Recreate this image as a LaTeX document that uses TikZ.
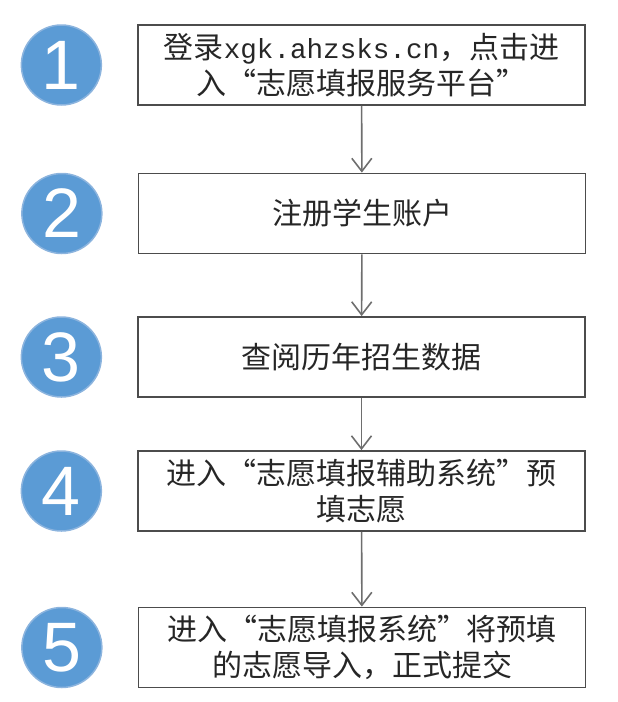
\documentclass[tikz,border=0pt]{standalone}
\usepackage{fontspec}
\newfontfamily\cjkfont{Noto Sans CJK SC}
\newfontfamily\numfont{Liberation Sans}
\newfontfamily\urlfont[Scale=0.92]{Liberation Mono}
\usetikzlibrary{arrows.meta,positioning}
\definecolor{badgeblue}{RGB}{91,155,213}
\definecolor{badgerim}{RGB}{140,180,222}
\definecolor{linegray}{RGB}{110,110,110}

\begin{document}
\begin{tikzpicture}[x=1pt, y=-1pt,
stepbox/.style={rectangle, draw=black!70, line width=1.8pt, minimum width=447pt, minimum height=80pt, inner sep=0pt, align=center, text=black!85, font=\cjkfont\fontsize{30pt}{36pt}\selectfont},
badge/.style={circle, fill=badgeblue, draw=badgerim, line width=1.5pt, minimum size=80pt, inner sep=0pt, text=white, font=\numfont\fontsize{70pt}{70pt}\selectfont},
flow/.style={draw=linegray, line width=1.6pt, -{Straight Barb[length=13pt,width=20pt,line width=1.6pt]}}
    ]
  \useasboundingbox (0,0) rectangle (618,702);
  % the five steps
  \node[stepbox] (s1) at (361.5,65) {登录{\urlfont xgk.ahzsks.cn}，点击进\\入“志愿填报服务平台”};
  \node[stepbox] (s2) at (362,213.5) {注册学生账户};
  \node[stepbox] (s3) at (361.5,357) {查阅历年招生数据};
  \node[stepbox] (s4) at (361.5,491) {进入“志愿填报辅助系统”预\\填志愿};
  \node[stepbox] (s5) at (362,647.5) {进入“志愿填报系统”将预填\\的志愿导入，正式提交};
  % numbered badges
  \node[badge, left=35pt of s1] (b1) {1};
  \node[badge, left=35pt of s2] (b2) {2};
  \node[badge, left=35pt of s3] (b3) {3};
  \node[badge, left=35pt of s4] (b4) {4};
  \node[badge, left=35pt of s5] (b5) {5};
  % arrows
  \draw[flow] (s1) -- (s2);
  \draw[flow] (s2) -- (s3);
  \draw[flow] (s3) -- (s4);
  \draw[flow] (s4) -- (s5);
\end{tikzpicture}
\end{document}
